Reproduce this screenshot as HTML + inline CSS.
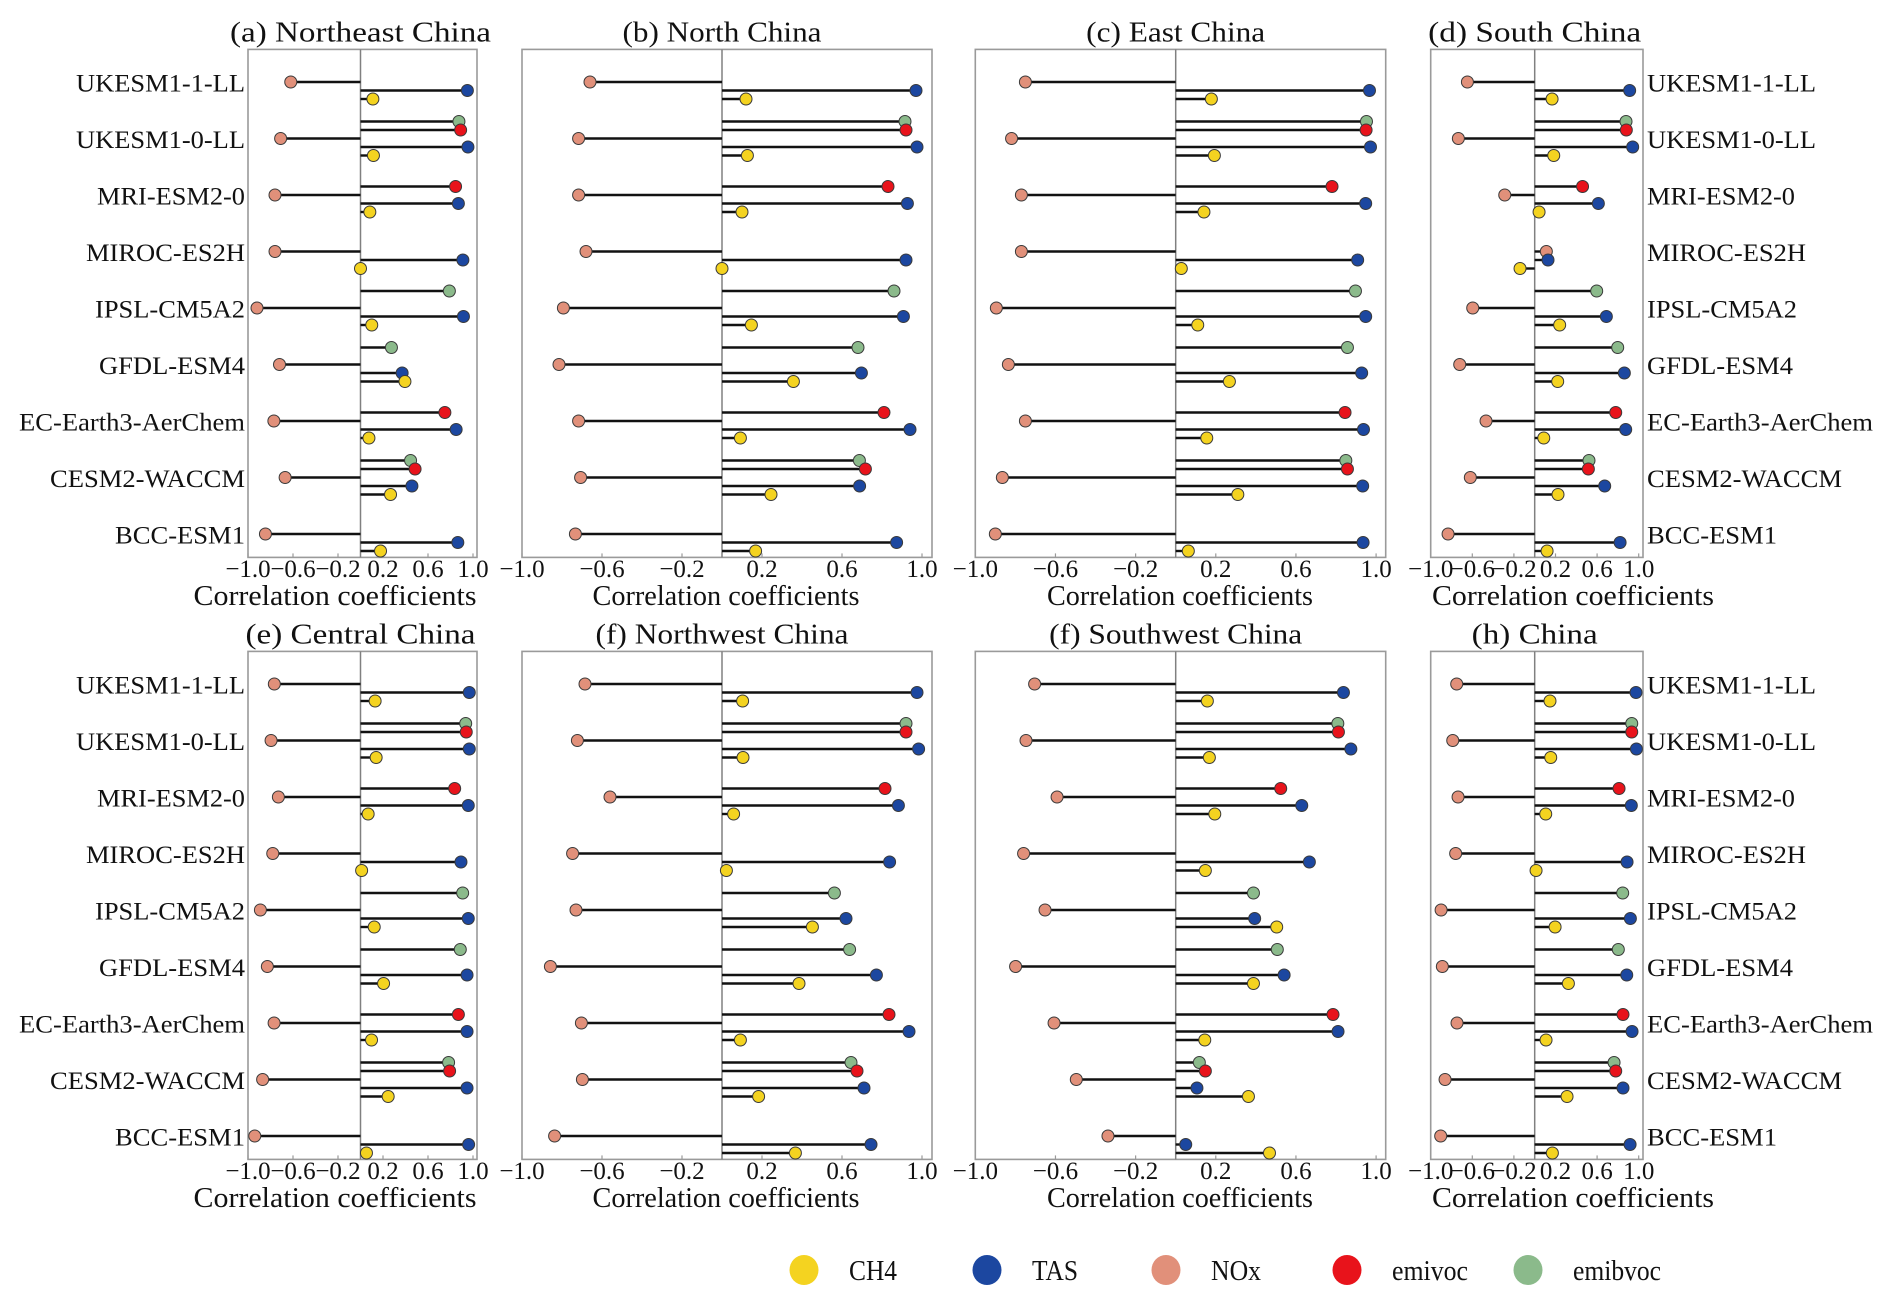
<!DOCTYPE html>
<html><head><meta charset="utf-8"><style>
html,body{margin:0;padding:0;background:#fff;}
svg{display:block;font-family:"Liberation Serif","Times New Roman",serif;}
</style></head><body>
<svg id="chart" width="1892" height="1302" viewBox="0 0 1892 1302" xmlns="http://www.w3.org/2000/svg"></svg>
<script>
const panelTitles = ["(a) Northeast China","(b) North China","(c) East China","(d) South China","(e) Central China","(f) Northwest China","(f) Southwest China","(h) China"];
const models = ["UKESM1-1-LL","UKESM1-0-LL","MRI-ESM2-0","MIROC-ES2H","IPSL-CM5A2","GFDL-ESM4","EC-Earth3-AerChem","CESM2-WACCM","BCC-ESM1"];
const tickValues = [-1.0,-0.6,-0.2,0.2,0.6,1.0];
const tickLabels = ["\u22121.0","\u22120.6","\u22120.2","0.2","0.6","1.0"];
const seriesNames = ["CH4","TAS","NOx","emivoc","emibvoc"];
const N = null;
const emibvocValues = [
 [N,0.875,N,N,0.79,0.275,N,0.445,N],
 [N,0.915,N,N,0.86,0.68,N,0.687,N],
 [N,0.952,N,N,0.897,0.857,N,0.849,N],
 [N,0.878,N,N,0.596,0.798,N,0.522,N],
 [N,0.935,N,N,0.908,0.887,N,0.783,N],
 [N,0.92,N,N,0.562,0.638,N,0.645,N],
 [N,0.809,N,N,0.388,0.507,N,0.118,N],
 [N,0.933,N,N,0.846,0.804,N,0.763,N]
];
const emivocValues = [
 [N,0.89,0.845,N,N,N,0.75,0.485,N],
 [N,0.92,0.83,N,N,N,0.81,0.717,N],
 [N,0.95,0.78,N,N,N,0.845,0.857,N],
 [N,0.881,0.46,N,N,N,0.779,0.516,N],
 [N,0.94,0.837,N,N,N,0.87,0.792,N],
 [N,0.92,0.815,N,N,N,0.835,0.675,N],
 [N,0.812,0.524,N,N,N,0.785,0.148,N],
 [N,0.933,0.811,N,N,N,0.849,0.779,N]
];
const noxValues = [
 [-0.62,-0.71,-0.76,-0.76,-0.92,-0.72,-0.77,-0.67,-0.845],
 [-0.66,-0.717,-0.717,-0.68,-0.793,-0.815,-0.717,-0.707,-0.733],
 [-0.75,-0.819,-0.77,-0.77,-0.895,-0.835,-0.75,-0.865,-0.9],
 [-0.647,-0.734,-0.288,0.112,-0.596,-0.721,-0.468,-0.619,-0.833],
 [-0.766,-0.795,-0.73,-0.78,-0.89,-0.828,-0.768,-0.87,-0.94],
 [-0.685,-0.723,-0.56,-0.747,-0.73,-0.858,-0.703,-0.698,-0.837],
 [-0.704,-0.747,-0.592,-0.759,-0.652,-0.799,-0.607,-0.496,-0.338],
 [-0.75,-0.788,-0.737,-0.76,-0.9,-0.888,-0.747,-0.862,-0.904]
];
const tasValues = [
 [0.95,0.955,0.87,0.91,0.915,0.37,0.85,0.457,0.865],
 [0.97,0.975,0.927,0.92,0.907,0.697,0.94,0.688,0.873],
 [0.967,0.972,0.948,0.908,0.948,0.928,0.937,0.933,0.935],
 [0.913,0.942,0.612,0.128,0.689,0.862,0.875,0.673,0.821],
 [0.967,0.967,0.958,0.893,0.958,0.947,0.947,0.947,0.961],
 [0.975,0.983,0.882,0.838,0.62,0.772,0.935,0.71,0.745],
 [0.837,0.874,0.629,0.667,0.394,0.541,0.81,0.106,0.05],
 [0.974,0.978,0.929,0.888,0.92,0.885,0.936,0.849,0.917]
];
const ch4Values = [
 [0.11,0.115,0.083,0.0,0.10,0.395,0.075,0.267,0.178],
 [0.12,0.127,0.10,0.0,0.147,0.357,0.092,0.245,0.168],
 [0.178,0.193,0.141,0.028,0.11,0.268,0.155,0.31,0.063],
 [0.167,0.183,0.042,-0.141,0.24,0.221,0.087,0.224,0.119],
 [0.13,0.139,0.068,0.01,0.122,0.205,0.098,0.246,0.053],
 [0.103,0.105,0.058,0.022,0.452,0.385,0.092,0.183,0.367],
 [0.158,0.168,0.195,0.148,0.504,0.388,0.145,0.363,0.468],
 [0.147,0.154,0.106,0.013,0.196,0.324,0.109,0.311,0.17]
];

const colors = {CH4:"#f4d320",TAS:"#1c47a0",NOx:"#e1907a",emivoc:"#e8131b",emibvoc:"#8bba8b"};
const layouts = [
 {xm1:248,x0:360.5,right:477,top:49.4,lab:"left",tw:261,ax:335,aw:283},
 {xm1:522,x0:722,right:932,top:49.4,lab:null,tw:199,ax:726,aw:267},
 {xm1:975.3,x0:1175.7,right:1385.7,top:49.4,lab:null,tw:179,ax:1180,aw:266},
 {xm1:1430.7,x0:1534.7,right:1643,top:49.4,lab:"right",tw:213,ax:1573,aw:282},
 {xm1:248,x0:360.5,right:477,top:651.4,lab:"left",tw:230,ax:335,aw:283},
 {xm1:522,x0:722,right:932,top:651.4,lab:null,tw:253,ax:726,aw:267},
 {xm1:975.3,x0:1175.7,right:1385.7,top:651.4,lab:null,tw:253,ax:1180,aw:266},
 {xm1:1430.7,x0:1534.7,right:1643,top:651.4,lab:"right",tw:126,ax:1573,aw:282}
];
const labelWidths = [169,169,148,159,150,146,226,195,130];
const NS = "http://www.w3.org/2000/svg";
const svg = document.getElementById("chart");
function mk(tag, attrs, parent){
  const e = document.createElementNS(NS, tag);
  for (const k in attrs) e.setAttribute(k, attrs[k]);
  (parent||svg).appendChild(e);
  return e;
}
const slotOf = {emibvoc:-2, emivoc:-1, NOx:0, TAS:1, CH4:2};
const valuesOf = {emibvoc:emibvocValues, emivoc:emivocValues, NOx:noxValues, TAS:tasValues, CH4:ch4Values};
const drawOrder = ["emibvoc","emivoc","NOx","TAS","CH4"];

layouts.forEach((L, p) => {
  const g = mk("g", {});
  
  
  const unit = L.x0 - L.xm1;
  const xs = v => L.x0 + v * unit;
  const bottom = L.top + 508;
  const yc = i => L.top + 32.6 + i * 56.5;
  const slot = 8.5;
  const box = mk("rect", {x:L.xm1, y:L.top, width:L.right-L.xm1, height:bottom-L.top, fill:"none", stroke:"#9a9a9a", "stroke-width":1.6}, g);
  
  
  const zl = mk("line", {x1:L.x0, x2:L.x0, y1:L.top, y2:bottom, stroke:"#808080", "stroke-width":1.5}, g);
  
  
  const title = mk("text", {x:L.x0, y:L.top-8, "text-anchor":"middle", "font-size":28, textLength:L.tw, lengthAdjust:"spacingAndGlyphs", fill:"#111"}, g);
  title.textContent = panelTitles[p];
  
  
  tickValues.forEach((tv, k) => {
    const tx = xs(tv);
    const tk = mk("line", {x1:tx, x2:tx, y1:bottom, y2:bottom-4, stroke:"#9a9a9a", "stroke-width":1.2}, g);
    
    
    const tl = mk("text", {x:tx, y:L.top+527.5, "text-anchor":"middle", "font-size":25, fill:"#111"}, g);
    tl.textContent = tickLabels[k];
    
    
  });
  const axl = mk("text", {x:L.ax, y:L.top+555.5, "text-anchor":"middle", "font-size":28, textLength:L.aw, lengthAdjust:"spacingAndGlyphs", fill:"#111"}, g);
  axl.textContent = "Correlation coefficients";
  
  
  models.forEach((m, i) => {
    if (L.lab) {
      const left = L.lab === "left";
      const t = mk("text", {x: left ? L.xm1-3 : L.right+4, y: yc(i)+9.5, "text-anchor": left ? "end" : "start", "font-size":25, textLength:labelWidths[i], lengthAdjust:"spacingAndGlyphs", fill:"#111"}, g);
      t.textContent = m;
      
      
    }
    drawOrder.forEach(s => {
      const v = valuesOf[s][p][i];
      if (v === null) return;
      const y = yc(i) + slotOf[s]*slot;
      const st = mk("line", {x1:L.x0, x2:xs(v), y1:y, y2:y, stroke:"#111", "stroke-width":2.4}, g);
      
      
    });
    drawOrder.forEach(s => {
      const v = valuesOf[s][p][i];
      if (v === null) return;
      const y = yc(i) + slotOf[s]*slot;
      const c = mk("circle", {cx:xs(v), cy:y, r:6, fill:colors[s], stroke:"#3a3a3a", "stroke-width":1}, g);
      
      
    });
  });
});

const legendX = [804,987,1166,1347,1528];
const legendTextW = [48,46,50,76,88];
const lg = mk("g", {});


seriesNames.forEach((s, k) => {
  const c = mk("ellipse", {cx:legendX[k], cy:1270, rx:14.5, ry:15, fill:colors[s]}, lg);
  
  
  const t = mk("text", {x:legendX[k]+45, y:1280, "font-size":28, textLength:legendTextW[k], lengthAdjust:"spacingAndGlyphs", fill:"#111"}, lg);
  t.textContent = s;
  
  
});
</script>
</body></html>
